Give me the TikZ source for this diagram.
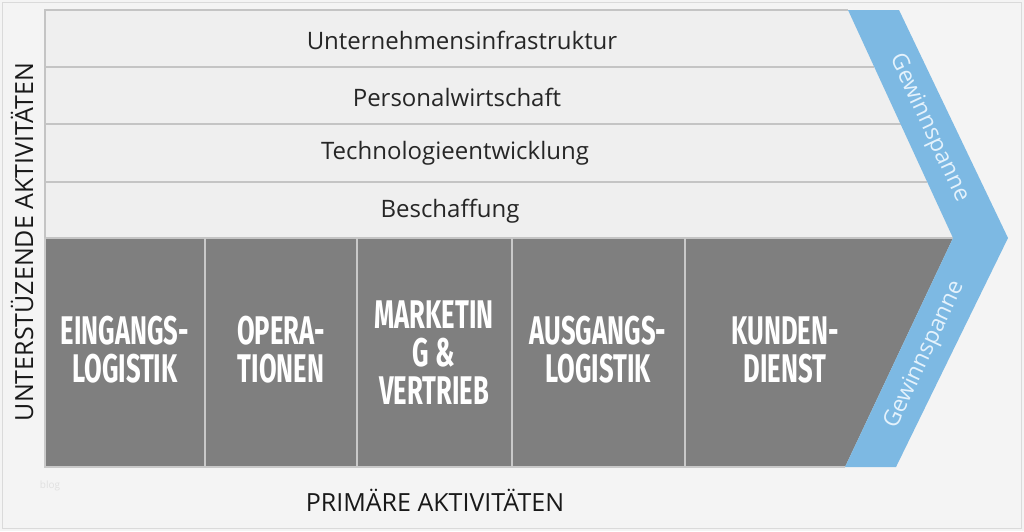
\documentclass[tikz,border=0pt]{standalone}
\usepackage{fontspec}
\setmainfont{Open Sans}
\newfontfamily\primfont{Fira Sans}
\definecolor{pagebg}{HTML}{F4F4F4}
\definecolor{pageline}{HTML}{DADADA}
\definecolor{rowfill}{HTML}{EFEFEF}
\definecolor{rowline}{HTML}{C4C4C4}
\definecolor{primfill}{HTML}{7F7F7F}
\definecolor{primline}{HTML}{C9C9C9}
\definecolor{marginblue}{HTML}{7DB9E3}
\definecolor{margintext}{HTML}{E4F2FC}
\tikzset{
	support label/.style={font=\fontsize{24}{28}\selectfont,text=black!85},
	prim label/.style={font=\primfont\bfseries\fontsize{40}{38}\selectfont,
		text=white,align=center,xscale=0.64},
	axis label/.style={font=\fontsize{25}{29}\selectfont,text=black!90},
	margin label/.style={font=\fontsize{23}{27}\selectfont,text=margintext}
}

\begin{document}
\begin{tikzpicture}[x=1pt,y=-1pt]
	\useasboundingbox (0,0) rectangle (1024,531);
	\fill[pagebg] (0,0) rectangle (1024,531);
	\draw[pageline,line width=1.2pt] (2.5,2.5) rectangle (1021.5,528.5);
	% support rows
	\fill[rowfill] (45,10) -- (848,10) -- (953,238) -- (45,238) -- cycle;
	\foreach \y/\x in {67/874.3,124/900.5,182/927.2}
		\draw[rowline,line width=1.3pt] (45,\y) -- (\x,\y);
	\draw[rowline,line width=1.3pt] (848,10) -- (45,10) -- (45,238);
	% primary activities
	\fill[primfill] (45,238) -- (953,238) -- (845,467) -- (45,467) -- cycle;
	\draw[rowline,line width=1.3pt] (45,238) -- (953,238);
	\draw[primline,line width=1.3pt] (45,238) -- (45,467) -- (845,467);
	\foreach \x in {205,357,512,685}
		\draw[primline,line width=1.5pt] (\x,238) -- (\x,467);
	% margin chevron
	\fill[marginblue] (848,10) -- (899,10) -- (1008,238) -- (896,467)
		-- (845,467) -- (953,238) -- cycle;

	\node[support label] (infra) at (462,40) {Unternehmensinfrastruktur};
	\node[support label] (personal) at (457,97) {Personalwirtschaft};
	\node[support label] (tech) at (455,153) {Technologieentwicklung};
	\node[support label] (beschaffung) at (450,211) {Beschaffung};

	\node[prim label] (eingang) at (125,350) {EINGANGS-\\LOGISTIK};
	\node[prim label] (operation) at (281,350) {OPERA-\\TIONEN};
	\node[prim label] (marketing) at (434,353) {MARKETIN\\G \&\\VERTRIEB};
	\node[prim label] (ausgang) at (598,350) {AUSGANGS-\\LOGISTIK};
	\node[prim label] (kunden) at (785,350) {KUNDEN-\\DIENST};

	\node[margin label,rotate=-65] (margin top) at (929,128) {Gewinnspanne};
	\node[margin label,rotate=65] (margin bottom) at (925,355) {Gewinnspanne};

	\node[axis label,rotate=90] (support) at (22,242) {UNTERSTÜZENDE AKTIVITÄTEN};
	\node[axis label] (primary) at (435,500) {PRIMÄRE AKTIVITÄTEN};
	\node[font=\fontsize{10}{12}\selectfont,text=black!12] (blog) at (50,486) {blog};
\end{tikzpicture}
\end{document}
